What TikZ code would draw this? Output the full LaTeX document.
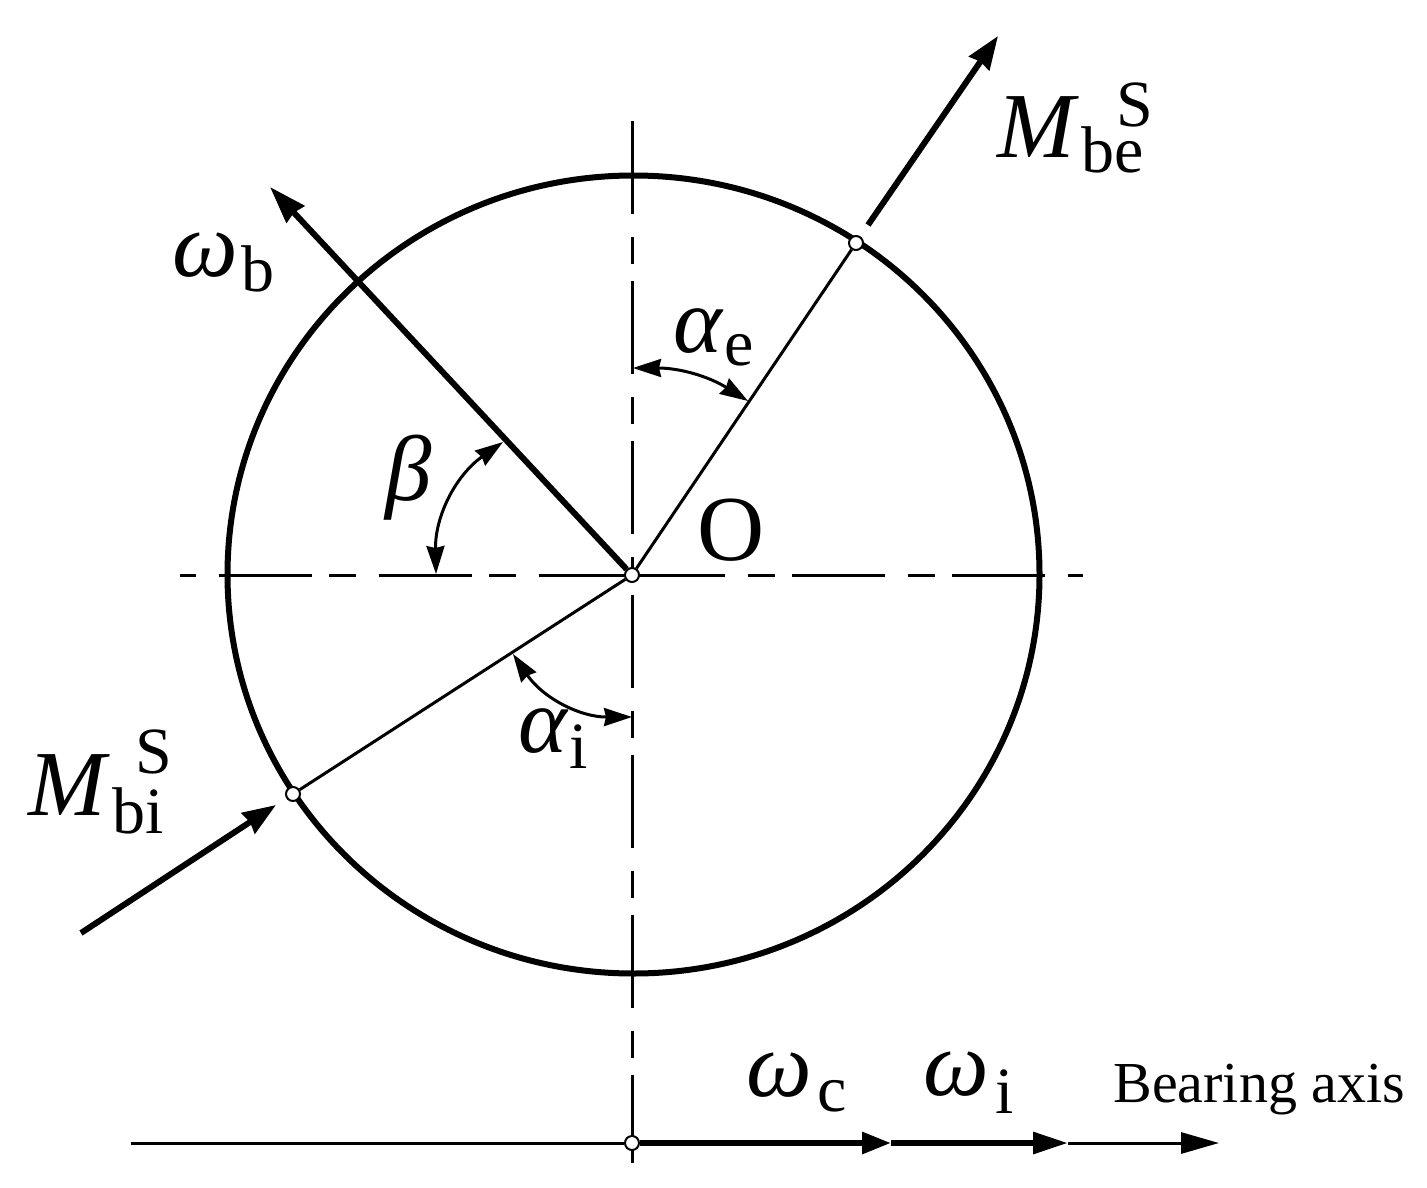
\documentclass[tikz,border=0pt]{standalone}
\usepackage{fontspec}
\setmainfont{Liberation Serif}
\usetikzlibrary{arrows.meta,positioning}
\pgfdeclarelayer{background}
\pgfsetlayers{background,main}
\newcommand{\bigfont}{\fontsize{46.5}{46.5}\selectfont}
\newcommand{\subfont}{\fontsize{33}{33}\selectfont}
\newcommand{\symsub}[4]{{\itshape #1}\kern#2\raisebox{-#3}{\subfont #4}}
\newcommand{\moment}[4]{{\itshape M}\rlap{\kern#3\raisebox{#4}{\subfont S}}\kern3.5pt\raisebox{-#2}{\subfont #1}}
\tikzset{
  ball/.style={circle,draw,fill=white,line width=1pt,inner sep=0pt,minimum size=7pt},
  thinline/.style={line width=1.5pt},
  thickline/.style={line width=3pt},
  centerline/.style={line width=1.5pt,dash pattern=on 46.5pt off 11.5pt on 13.5pt off 8.5pt},
  lab/.style={inner sep=0pt,anchor=base west,font=\bigfont},
  bigtip/.style={-{Stealth[length=16.5pt,width=12pt,inset=1pt]}},
  angletip/.style={{Stealth[length=14pt,width=9pt,inset=1pt]}-{Stealth[length=14pt,width=9pt,inset=1pt]}}
}
\begin{document}
\begin{tikzpicture}[x=0.5pt,y=-0.5pt]
   \useasboundingbox (0,0) rectangle (1427,1187);
   \node [ball] (O) at (632,575) {};
   \node [ball] (ballE) at (856,243) {};
   \node [ball] (ballI) at (293,794) {};
   \node [ball] (ballA) at (632,1143) {};
   \coordinate (leftEnd) at (180,575);
   \coordinate (rightEnd) at (1083,575);
   \coordinate (topEnd) at (632,121);
   \coordinate (lowStart) at (632,595);
   \coordinate (lowEnd) at (632,1163);
   \coordinate (omegaTip) at (270,187);
   \coordinate (beTail) at (868,225);
   \coordinate (beTip) at (998,36);
   \coordinate (biTail) at (81,933);
   \coordinate (biTip) at (276,805);
   \coordinate (axisTail) at (131,1143);
   \coordinate (cTip) at (891,1143);
   \coordinate (iTip) at (1068,1143);
   \coordinate (axisTip) at (1219,1143);
   \coordinate (betaA) at (436,574);
   \coordinate (betaB) at (503,442);
   \coordinate (aeA) at (633,368);
   \coordinate (aeB) at (748,401);
   \coordinate (aiA) at (513,654);
   \coordinate (aiB) at (632,717);
   \begin{pgfonlayer}{background}
   \draw [line width=3pt] (633.5,574.5) ellipse [x radius=406,y radius=399];
   \draw [centerline] (O.center) -- (leftEnd);
   \draw [centerline] (O.center) -- (rightEnd);
   \draw [centerline] (topEnd) -- (O.center);
   \draw [centerline] (lowStart) -- (lowEnd);
   \draw [thinline] (O) -- (ballE);
   \draw [thinline] (O) -- (ballI);
   \draw [thickline,-{Stealth[length=18.5pt,width=12pt,inset=1pt]}] (O) -- (omegaTip);
   \draw [thickline,bigtip] (beTail) -- (beTip);
   \draw [thickline,bigtip] (biTail) -- (biTip);
   \draw [thinline] (axisTail) -- (ballA);
   \draw [thickline,-{Stealth[length=14.5pt,width=10.5pt,inset=0pt]}] (ballA) -- (cTip);
   \draw [thickline,-{Stealth[length=17.5pt,width=10.5pt,inset=0pt]}] (cTip) -- (iTip);
   \draw [thinline,-{Stealth[length=19pt,width=10.5pt,inset=0pt]}] (iTip) -- (axisTip);
   \draw [thinline,angletip] (betaA) to [bend left=28] (betaB);
   \draw [thinline,angletip] (aeA) to [bend left=16] (aeB);
   \draw [thinline,angletip] (aiA) to [bend right=28] (aiB);
   \end{pgfonlayer}
   \node [lab] (Mbe) at (997,158) {\moment{be}{7.5pt}{21pt}{15.5pt}};
   \node [lab] (Mbi) at (28,815) {\moment{bi}{9pt}{15pt}{21pt}};
   \node [lab] (omegaB) at (172,277) {\symsub{ω}{1.5pt}{7.5pt}{b}};
   \node [lab] (alphaE) at (673,352) {\symsub{α}{1pt}{6.5pt}{e}};
   \node [lab] (alphaI) at (518,752) {\symsub{α}{1pt}{8pt}{i}};
   \node [lab] (betaL) at (385,500) {\textit{β}};
   \node [lab] (centerL) at (697,560) {O};
   \node [lab] (omegaC) at (746,1096) {\symsub{ω}{2.5pt}{7.5pt}{c}};
   \node [lab] (omegaI) at (923,1095) {\symsub{ω}{3pt}{9pt}{i}};
   \node [lab,font=\fontsize{29}{29}\selectfont] (axisL) at (1113,1102) {Bearing axis};
\end{tikzpicture}
\end{document}
